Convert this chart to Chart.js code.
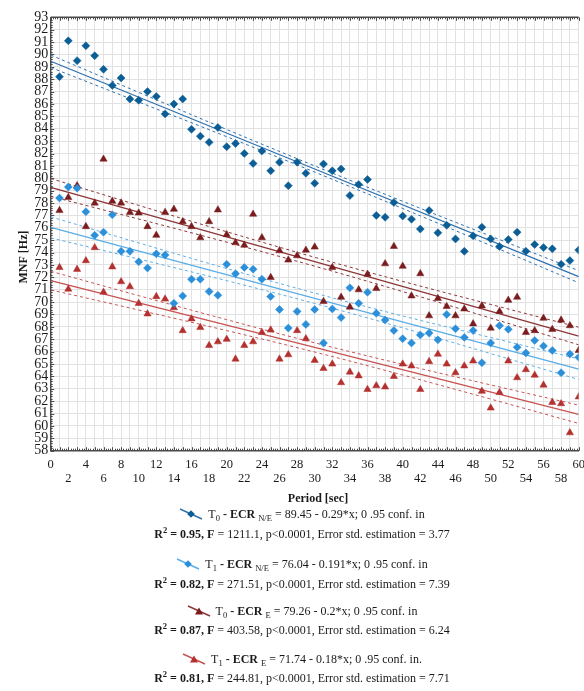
<!DOCTYPE html>
<html>
<head>
<meta charset="utf-8">
<script src="https://cdn.jsdelivr.net/npm/chart.js@4.4.1/dist/chart.umd.min.js"></script>
<style>
  html, body { margin: 0; padding: 0; background: #fff; }
  #wrap { position: relative; width: 584px; height: 691px; font-family: "Liberation Serif", "Times New Roman", serif; color: #1a1a1a; }
  #plot { position: absolute; left: 0; top: 0; width: 584px; height: 512px; }
  .row { position: absolute; left: 20px; width: 564px; height: 20px; line-height: 20px; text-align: center; font-size: 12px; white-space: nowrap; }
  sub, sup { line-height: 0; font-size: 8.5px; }
  sub { vertical-align: -3px; }
  sup { vertical-align: 5px; }
  svg.sym { vertical-align: -2px; margin-right: 5px; }
</style>
</head>
<body>
<div id="wrap">
  <div id="plot"><canvas id="chart-mnf"></canvas></div>

  <div class="row" style="top:504px"><svg class="sym" width="24" height="12"><line x1="1" y1="1" x2="23" y2="11" stroke="#2f72b0" stroke-width="1.4"/><path d="M12 2.2 L15.8 6 L12 9.8 L8.2 6Z" fill="#0b5e95"/></svg>T<sub>0</sub><b> - ECR</b> <sub>N/E</sub> = 89.45 - 0.29*x; 0 .95 conf. in</div>
  <div class="row" style="top:524px"><b>R<sup>2</sup> = 0.95, F</b> = 1211.1, p&lt;0.0001, Error std. estimation = 3.77</div>

  <div class="row" style="top:554px"><svg class="sym" width="24" height="12"><line x1="1" y1="1" x2="23" y2="11" stroke="#5aaee8" stroke-width="1.4"/><path d="M12 2.2 L15.8 6 L12 9.8 L8.2 6Z" fill="#2b8fd9"/></svg>T<sub>1</sub><b> - ECR</b> <sub>N/E</sub> = 76.04 - 0.191*x; 0 .95 conf. in</div>
  <div class="row" style="top:574px"><b>R<sup>2</sup> = 0.82, F</b> = 271.51, p&lt;0.0001, Error std. estimation = 7.39</div>

  <div class="row" style="top:601px"><svg class="sym" width="24" height="12"><line x1="1" y1="1" x2="23" y2="11" stroke="#8e3535" stroke-width="1.4"/><path d="M12 2.5 L16 9.5 L8 9.5Z" fill="#7a1c1e"/></svg>T<sub>0</sub><b> - ECR</b> <sub>E</sub> = 79.26 - 0.2*x; 0 .95 conf. in</div>
  <div class="row" style="top:620px"><b>R<sup>2</sup> = 0.87, F</b> = 403.58, p&lt;0.0001, Error std. estimation = 6.24</div>

  <div class="row" style="top:649px"><svg class="sym" width="24" height="12"><line x1="1" y1="1" x2="23" y2="11" stroke="#c85252" stroke-width="1.4"/><path d="M12 2.5 L16 9.5 L8 9.5Z" fill="#b3302f"/></svg>T<sub>1</sub><b> - ECR</b> <sub>E</sub> = 71.74 - 0.18*x; 0 .95 conf. in.</div>
  <div class="row" style="top:668px"><b>R<sup>2</sup> = 0.81, F</b> = 244.81, p&lt;0.0001, Error std. estimation = 7.71</div>
</div>

<script>
// measurement times (s)
const seconds = [1, 2, 3, 4, 5, 6, 7, 8, 9, 10, 11, 12, 13, 14, 15, 16, 17, 18, 19, 20,
  21, 22, 23, 24, 25, 26, 27, 28, 29, 30, 31, 32, 33, 34, 35, 36, 37, 38, 39, 40,
  41, 42, 43, 44, 45, 46, 47, 48, 49, 50, 51, 52, 53, 54, 55, 56, 57, 58, 59, 60];

// MNF [Hz] per second
const t0NE = [88.2, 91.1, 89.5, 90.7, 89.9, 88.8, 87.5, 88.1, 86.4, 86.3,
  87.0, 86.6, 85.2, 86.0, 86.4, 83.95, 83.4, 82.9, 84.1, 82.55,
  82.8, 82.0, 81.2, 82.2, 80.6, 81.3, 79.4, 81.3, 80.4, 79.6,
  81.15, 80.6, 80.75, 78.6, 79.5, 79.9, 77.0, 76.85, 78.05, 76.95,
  76.7, 75.9, 77.4, 75.6, 76.2, 75.1, 74.1, 75.35, 76.05, 75.1,
  74.5, 75.05, 75.65, 74.1, 74.65, 74.4, 74.3, 73.05, 73.35, 74.2];
const t1NE = [78.4, 79.3, 79.2, 77.3, 75.4, 75.65, 77.05, 74.1, 74.1, 73.25,
  72.75, 73.9, 73.8, 69.9, 70.5, 71.85, 71.85, 70.85, 70.55, 73.05,
  72.3, 72.8, 72.65, 71.85, 70.45, 69.4, 67.9, 69.25, 68.2, 69.4,
  66.7, 69.45, 68.75, 71.15, 69.9, 70.8, 69.1, 68.55, 67.7, 67.05,
  66.7, 67.35, 67.5, 66.95, 69.0, 67.85, 67.15, 67.7, 65.1, 66.7,
  68.1, 67.8, 66.35, 65.9, 66.9, 66.45, 66.1, 64.3, 65.8, 65.55];
const t0E = [77.4, 78.45, 79.4, 76.1, 78.0, 81.55, 78.15, 78.0, 77.25, 77.2,
  76.1, 75.4, 77.25, 77.5, 76.5, 76.1, 75.2, 76.5, 77.45, 75.45,
  74.8, 74.6, 77.1, 75.2, 72.0, 74.15, 73.4, 73.75, 74.2, 74.45,
  70.05, 72.8, 70.4, 69.6, 71.0, 72.25, 71.1, 73.1, 74.5, 72.9,
  70.5, 72.3, 68.9, 70.3, 69.65, 68.9, 69.45, 68.25, 69.7, 67.9,
  69.25, 70.15, 70.4, 67.55, 67.7, 68.7, 67.8, 68.55, 68.1, 66.1];
const t1E = [72.8, 71.05, 72.65, 73.35, 74.4, 70.8, 72.85, 71.65, 71.25, 69.9,
  69.05, 70.45, 70.25, 69.55, 67.7, 68.65, 67.95, 66.5, 66.8, 67.0,
  65.4, 66.5, 66.8, 67.55, 67.75, 65.4, 65.75, 67.7, 67.05, 65.3,
  64.65, 65.0, 63.5, 64.35, 64.05, 62.95, 63.25, 63.15, 64.0, 65.0,
  64.85, 62.95, 65.2, 65.8, 65.0, 64.3, 64.85, 65.25, 62.8, 61.45,
  62.7, 65.25, 63.9, 64.55, 64.1, 63.3, 61.9, 61.8, 59.45, 62.35];

// regression lines (ends) and 0.95 confidence bands
const fitX = [0, 60];
const fitT0NE = [89.45, 72.05];
const fitT1NE = [76.04, 64.58];
const fitT0E = [79.26, 67.26];
const fitT1E = [71.74, 60.94];

const bandX = [0, 10, 20, 30, 40, 50, 60];
const upT0NE = [89.95, 86.94, 83.94, 81.0, 78.14, 75.33, 72.54];
const loT0NE = [88.95, 86.16, 83.36, 80.5, 77.56, 74.57, 71.56];
const upT1NE = [76.89, 74.78, 72.71, 70.73, 68.88, 67.14, 65.41];
const loT1NE = [75.19, 73.48, 71.73, 69.89, 67.92, 65.84, 63.75];
const upT0E = [79.98, 77.81, 75.68, 73.62, 71.67, 69.81, 67.97];
const loT0E = [78.54, 76.71, 74.84, 72.9, 70.85, 68.71, 66.55];
const upT1E = [72.49, 70.52, 68.58, 66.71, 64.97, 63.31, 61.68];
const loT1E = [70.99, 69.36, 67.7, 65.97, 64.11, 62.17, 60.2];

const SERIF = "'Liberation Serif', 'Times New Roman', serif";
const INK = "#1a1a1a";
const FRAME = "#4a4a4a";

const pairs = (xs, ys) => xs.map((x, i) => ({ x, y: ys[i] }));

function pointSet(label, ys, style, color) {
  return {
    type: "scatter", label, data: pairs(seconds, ys),
    pointStyle: style, pointRadius: style === "triangle" ? 4.2 : 4,
    backgroundColor: color, borderColor: color, borderWidth: 0.5, order: 1
  };
}

function lineSet(xs, ys, color, dashed) {
  return {
    type: "line", data: pairs(xs, ys), borderColor: color,
    borderWidth: dashed ? 1 : 1.3, borderDash: dashed ? [3, 3] : [],
    pointRadius: 0, fill: false, tension: 0.35, order: 2
  };
}

// titles, top frame line and the small minor ticks along the frame
const frameDecor = {
  id: "frameDecor",
  beforeDatasetsDraw(chart) {
    const { ctx, chartArea: a, scales: { x, y } } = chart;
    ctx.save();
    ctx.strokeStyle = FRAME;
    ctx.lineWidth = 1;
    ctx.beginPath();
    for (let t = 0; t <= 240; t++) {
      const px = Math.round(x.getPixelForValue(t / 4)) + 0.5;
      const len = t % 4 === 0 ? 3.5 : 2;
      ctx.moveTo(px, a.top); ctx.lineTo(px, a.top + len);
      ctx.moveTo(px, a.bottom); ctx.lineTo(px, a.bottom - len);
    }
    for (let v = 0; v <= 175; v++) {
      const py = Math.round(y.getPixelForValue(58 + v / 5)) + 0.5;
      const len = v % 5 === 0 ? 3.5 : 2;
      ctx.moveTo(a.left, py); ctx.lineTo(a.left + len, py);
    }
    ctx.stroke();
    ctx.lineWidth = 1.5;
    ctx.beginPath();
    ctx.moveTo(a.left, a.top); ctx.lineTo(a.right, a.top);
    ctx.stroke();
    ctx.restore();
  },
  afterDraw(chart) {
    const { ctx } = chart;
    ctx.save();
    ctx.fillStyle = INK;
    ctx.font = "bold 12px " + SERIF;
    ctx.textAlign = "center";
    ctx.textBaseline = "middle";
    ctx.fillText("Period [sec]", 318, 499);
    ctx.translate(24, 257);
    ctx.rotate(-Math.PI / 2);
    ctx.fillText("MNF [Hz]", 0, 0);
    ctx.restore();
  }
};

new Chart(document.getElementById("chart-mnf"), {
  type: "scatter",
  data: {
    datasets: [
      pointSet("T0 - ECR N/E", t0NE, "rectRot", "#0b5e95"),
      pointSet("T1 - ECR N/E", t1NE, "rectRot", "#2b8fd9"),
      pointSet("T0 - ECR E", t0E, "triangle", "#7a1c1e"),
      pointSet("T1 - ECR E", t1E, "triangle", "#b3302f"),
      lineSet(fitX, fitT0NE, "#2f72b0", false),
      lineSet(bandX, upT0NE, "#2f72b0", true),
      lineSet(bandX, loT0NE, "#2f72b0", true),
      lineSet(fitX, fitT1NE, "#5aaee8", false),
      lineSet(bandX, upT1NE, "#5aaee8", true),
      lineSet(bandX, loT1NE, "#5aaee8", true),
      lineSet(fitX, fitT0E, "#8e3535", false),
      lineSet(bandX, upT0E, "#8e3535", true),
      lineSet(bandX, loT0E, "#8e3535", true),
      lineSet(fitX, fitT1E, "#c85252", false),
      lineSet(bandX, upT1E, "#c85252", true),
      lineSet(bandX, loT1E, "#c85252", true)
    ]
  },
  options: {
    responsive: true,
    maintainAspectRatio: false,
    animation: false,
    layout: { padding: { top: 17.3, right: 5.3, bottom: 0, left: 0 } },
    plugins: { legend: { display: false }, tooltip: { enabled: false } },
    scales: {
      x: {
        type: "linear", min: 0, max: 60,
        grid: { color: "#e2e2e2", drawTicks: false },
        border: { color: FRAME, width: 1.5 },
        ticks: {
          stepSize: 1, autoSkip: false, maxRotation: 0, minRotation: 0, padding: 7,
          color: INK, font: { family: SERIF, size: 12.5, lineHeight: 1.1 },
          callback: (v) => (v % 4 === 0 ? String(v) : v % 2 === 0 ? ["", String(v)] : "")
        },
        afterFit(s) { s.height = 61.3; s.paddingLeft = 0; s.paddingRight = 0; }
      },
      y: {
        min: 58, max: 93,
        grid: { color: "#e2e2e2", drawTicks: false },
        border: { color: FRAME, width: 1.5 },
        ticks: { stepSize: 1, autoSkip: false, padding: 2.5, color: INK, font: { family: SERIF, size: 14 } },
        afterFit(s) { s.width = 50.7; }
      }
    }
  },
  plugins: [frameDecor]
});
</script>
</body>
</html>
